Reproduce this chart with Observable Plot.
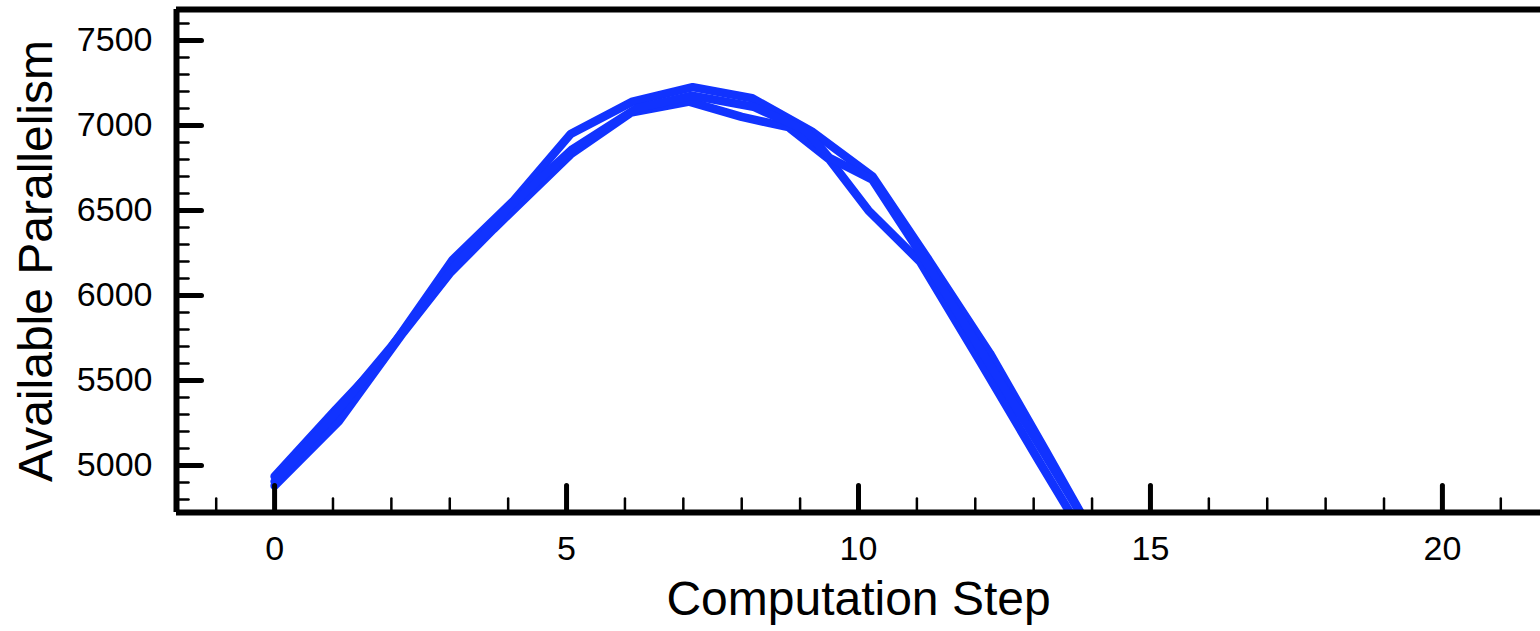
<!DOCTYPE html>
<html>
<head>
<meta charset="utf-8">
<script src="https://cdn.jsdelivr.net/npm/d3@7"></script>
<script src="https://cdn.jsdelivr.net/npm/@observablehq/plot@0.6"></script>
<style>
  html, body { margin: 0; padding: 0; background: #fff; }
  #chart { width: 1540px; height: 631px; }
</style>
</head>
<body>
<div id="chart"></div>
<script>
// ---- data ----
const stepsA  = [0, 1.05, 1.85, 3.05, 4.1, 5.07, 6.13, 7.16, 8.18, 9.2, 10.24, 11.2, 12.25, 13.2, 14.2];
const valuesA = [4935, 5330, 5620, 6210, 6560, 6950, 7140, 7225, 7160, 6965, 6700, 6210, 5660, 5090, 4480];

const stepsB  = [0, 1.1, 2.2, 3.0, 3.75, 5.07, 6.1, 7.1, 8.0, 8.8, 9.5, 10.17, 11.05, 12.1, 13.1, 14.1];
const valuesB = [4880, 5260, 5780, 6130, 6390, 6830, 7075, 7140, 7050, 6990, 6800, 6500, 6200, 5600, 5020, 4450];

const stepsC  = [0, 1.0, 2.0, 3.1, 4.05, 5.1, 6.2, 7.15, 8.2, 9.1, 9.5, 10.24, 11.15, 12.2, 13.2, 14.2];
const valuesC = [4905, 5290, 5700, 6180, 6530, 6860, 7100, 7175, 7110, 6970, 6810, 6680, 6200, 5620, 5060, 4490];

const xMajor = [0, 5, 10, 15, 20];
const xMinor = d3.range(-1, 22);
const yMajor = [5000, 5500, 6000, 6500, 7000, 7500];
const yMinor = d3.range(4800, 7700, 100);
const xDomain = [-1.68, 21.68];
const yDomain = [4723, 7682];

const xLabel = "Computation Step";
const yLabel = "Available Parallelism";

// ---- table ----
const rows = [];
[[stepsA, valuesA, "A"], [stepsB, valuesB, "B"], [stepsC, valuesC, "C"]].forEach(([xs, ys, s]) => {
  xs.forEach((x, i) => rows.push({series: s, step: x, value: ys[i]}));
});

const blue = "#1133ff";
const upTick = {draw(ctx, l) { ctx.moveTo(0, 0); ctx.lineTo(0, -l); }};

const chart = Plot.plot({
  width: 1540,
  height: 631,
  marginLeft: 176,
  marginRight: 0,
  marginTop: 9,
  marginBottom: 119,
  style: {fontFamily: "'Liberation Sans', Arial, Helvetica, sans-serif", background: "#fff", color: "#000"},
  x: {domain: xDomain, axis: null},
  y: {domain: yDomain, axis: null},
  marks: [
    Plot.line(rows, {x: "step", y: "value", z: "series", stroke: blue, strokeWidth: 8.5, strokeLinejoin: "miter", clip: true}),
    // frame
    Plot.ruleY([yDomain[0]], {stroke: "black", strokeWidth: 6}),
    Plot.ruleY([yDomain[1]], {stroke: "black", strokeWidth: 6}),
    Plot.ruleX([xDomain[0]], {stroke: "black", strokeWidth: 6}),
    // x ticks (inward)
    Plot.vector(xMinor.filter(d => !xMajor.includes(d)), {x: d => d, frameAnchor: "bottom", length: 14, rotate: 0, anchor: "start", shape: upTick, stroke: "black", strokeWidth: 2.5}),
    Plot.vector(xMajor, {x: d => d, frameAnchor: "bottom", length: 27, rotate: 0, anchor: "start", shape: upTick, stroke: "black", strokeWidth: 5}),
    // y ticks (inward)
    Plot.vector(yMinor.filter(d => !yMajor.includes(d)), {y: d => d, frameAnchor: "left", length: 12, rotate: 90, anchor: "start", shape: upTick, stroke: "black", strokeWidth: 2.5}),
    Plot.vector(yMajor, {y: d => d, frameAnchor: "left", length: 25, rotate: 90, anchor: "start", shape: upTick, stroke: "black", strokeWidth: 5}),
    // tick labels
    Plot.text(xMajor, {x: d => d, text: d => String(d), frameAnchor: "bottom", dy: 47, fontSize: 34}),
    Plot.text(yMajor, {y: d => d, text: d => String(d), frameAnchor: "left", dx: -24, textAnchor: "end", fontSize: 34}),
    // axis titles
    Plot.text([xLabel], {text: d => d, frameAnchor: "bottom", dy: 102, fontSize: 48}),
    Plot.text([yLabel], {text: d => d, frameAnchor: "left", dx: -140, rotate: -90, textAnchor: "middle", fontSize: 48})
  ]
});
document.getElementById("chart").appendChild(chart);
</script>
</body>
</html>
